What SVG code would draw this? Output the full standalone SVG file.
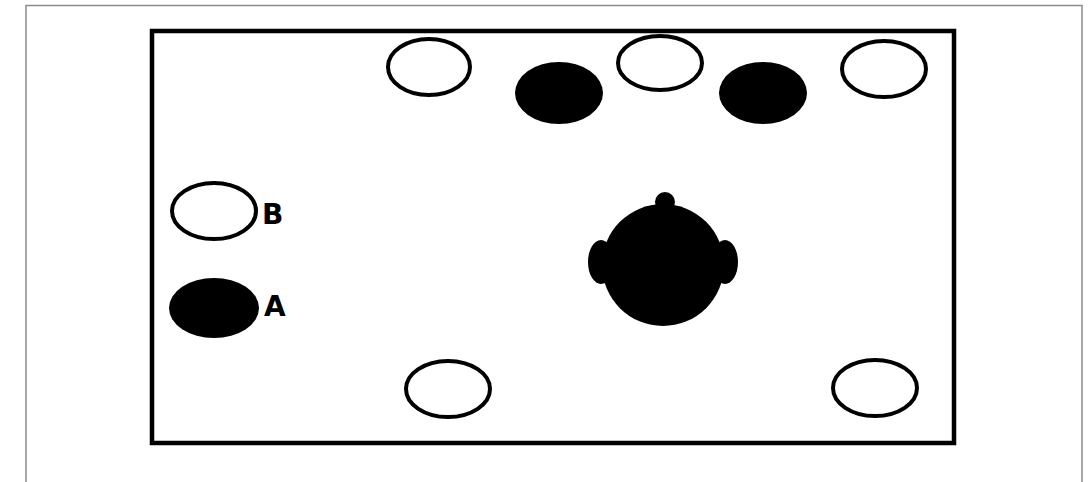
<svg xmlns="http://www.w3.org/2000/svg" width="1091" height="482" viewBox="0 0 1091 482">
<style>
.frame{fill:none;stroke:#8a8a8a;stroke-width:1.5}
.box{fill:#fff;stroke:#000;stroke-width:4.5}
.open{fill:#fff;stroke:#000;stroke-width:4}
.solid{fill:#000;stroke:none}
.lbl{font-family:"DejaVu Sans",sans-serif;font-weight:bold;font-size:28px;fill:#000}
</style>
<rect width="1091" height="482" fill="#fff"/>
<path class="frame" d="M26,482 V5.5 H1082 V482"/>
<rect class="box" x="152" y="31" width="802" height="412"/>
<g id="e1"><ellipse class="open" cx="429" cy="67" rx="41" ry="28"/></g>
<g id="e2"><ellipse class="solid" cx="559" cy="93" rx="44" ry="31"/></g>
<g id="e3"><ellipse class="open" cx="660" cy="63" rx="42" ry="27"/></g>
<g id="e4"><ellipse class="solid" cx="763" cy="93" rx="44" ry="31"/></g>
<g id="e5"><ellipse class="open" cx="884" cy="69" rx="42" ry="28"/></g>
<g id="B"><ellipse class="open" cx="214" cy="211" rx="42" ry="28"/><text class="lbl" x="262" y="224">B</text></g>
<g id="A"><ellipse class="solid" cx="214" cy="308" rx="45" ry="30"/><text class="lbl" x="264" y="316">A</text></g>
<g id="e6"><ellipse class="open" cx="448" cy="389" rx="42" ry="28"/></g>
<g id="e7"><ellipse class="open" cx="875" cy="388" rx="42" ry="28"/></g>
<g id="head">
<circle class="solid" cx="663" cy="265" r="61"/>
<circle class="solid" cx="665" cy="202" r="10"/>
<ellipse class="solid" cx="601" cy="262" rx="13" ry="22"/>
<ellipse class="solid" cx="725" cy="262" rx="13" ry="22"/>
</g>
</svg>
